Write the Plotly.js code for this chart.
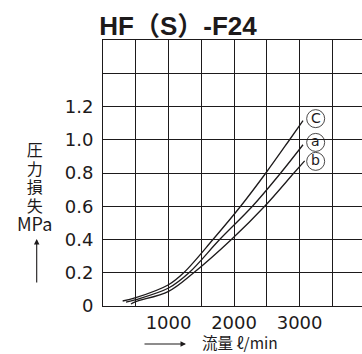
<!DOCTYPE html>
<html>
<head>
<meta charset="utf-8">
<script src="https://cdn.plot.ly/plotly-3.0.1.min.js"></script>
<style>html,body{margin:0;padding:0;background:#fff;}#chart{width:362px;height:354px;}</style>
</head>
<body>
<div id="chart"></div>
<script>
// ---- data ----
const chartTitle = "HF（S）-F24";
const flowC = [300, 500, 1000, 1231, 1678, 2100, 2485, 2847, 3052];
const lossC = [0.030, 0.050, 0.128, 0.2, 0.4, 0.6, 0.8, 1.0, 1.115];
const flowA = [351, 500, 1000, 1312, 1780, 2280, 2711, 3052];
const lossA = [0.023, 0.038, 0.108, 0.2, 0.4, 0.6, 0.8, 0.970];
const flowB = [427, 500, 1000, 1384, 1959, 2467, 2913, 3077];
const lossB = [0.012, 0.026, 0.088, 0.2, 0.4, 0.6, 0.8, 0.873];
const curveLabels = ["C", "a", "b"];
const labelFlow = [3245, 3245, 3245];
const labelLoss = [1.127, 0.984, 0.870];
const xTickVals = [0, 500, 1000, 1500, 2000, 2500, 3000, 3500, 4000];
const xTickText = ["", "", "1000", "", "2000", "", "3000", "", ""];
const yTickVals = [0, 0.2, 0.4, 0.6, 0.8, 1.0, 1.2, 1.4, 1.6];
const yTickText = ["0", "0.2", "0.4", "0.6", "0.8", "1.0", "1.2", "", ""];
const yTitleLines = ["圧", "力", "損", "失", "MPa"];
const xTitleText = "流量 ℓ/min";

const ink = "#1d1a1b";
const lineStyle = {color: ink, width: 1.3, shape: "spline", smoothing: 1};
const traces = [
  {x: flowC, y: lossC, mode: "lines", line: lineStyle, hoverinfo: "skip"},
  {x: flowA, y: lossA, mode: "lines", line: lineStyle, hoverinfo: "skip"},
  {x: flowB, y: lossB, mode: "lines", line: lineStyle, hoverinfo: "skip"}
];

const W = 362, H = 354, L = 103, T = 40, B = 306, R = 362;
const px2paperX = p => (p - L) / (R - L);
const px2paperY = p => (B - p) / (B - T);

const cjk = "'Noto Sans CJK JP', 'DejaVu Sans', sans-serif";
const latin = "'DejaVu Sans', sans-serif";
const annotations = [];
const shapes = [];
curveLabels.forEach((t, i) => {
  annotations.push({x: labelFlow[i], y: labelLoss[i], xref: "x", yref: "y", text: t,
    showarrow: false, font: {family: latin, size: 14, color: ink}, xanchor: "center", yanchor: "middle", yshift: 1});
  shapes.push({type: "circle", xref: "x", yref: "y", xsizemode: "pixel", ysizemode: "pixel",
    xanchor: labelFlow[i], yanchor: labelLoss[i], x0: -9, x1: 9, y0: -9, y1: 9,
    line: {color: ink, width: 0.8}, fillcolor: "rgba(0,0,0,0)", layer: "above"});
});
// vertical y-axis title: one text block, lines stacked
const yTitleText = yTitleLines.map((t, i) =>
  i < yTitleLines.length - 1 ? "<span style='font-size:16px'>" + t + "</span>" : "<span style='font-size:18px'>" + t + "</span>"
).join("<br>");
annotations.push({x: px2paperX(34), y: px2paperY(186), xref: "paper", yref: "paper", text: yTitleText,
  showarrow: false, font: {family: cjk, size: 14.4, color: ink}, xanchor: "center", yanchor: "middle", align: "center"});
// vertical arrow under the y title
annotations.push({x: px2paperX(36.7), y: px2paperY(239), xref: "paper", yref: "paper", text: "",
  showarrow: true, ax: 0, ay: 45, arrowhead: 2, arrowsize: 1, arrowwidth: 1.1, arrowcolor: ink});
// horizontal arrow before the x title
annotations.push({x: px2paperX(186), y: px2paperY(344), xref: "paper", yref: "paper", text: "",
  showarrow: true, ax: -43, ay: 0, arrowhead: 2, arrowsize: 1, arrowwidth: 1.1, arrowcolor: ink});
annotations.push({x: px2paperX(240), y: px2paperY(342.3), xref: "paper", yref: "paper", text: xTitleText,
  showarrow: false, font: {family: cjk, size: 15.5, color: ink}, xanchor: "center", yanchor: "middle"});

const axisCommon = {showgrid: true, gridcolor: ink, gridwidth: 1, showline: true, linecolor: ink,
  linewidth: 1, zeroline: false, ticks: "", fixedrange: true,
  tickfont: {family: latin, size: 18, color: ink}};

const layout = {
  width: W, height: H,
  margin: {l: 103, r: 0, t: 40, b: 48, pad: 0},
  paper_bgcolor: "#fff", plot_bgcolor: "#fff",
  showlegend: false,
  title: {text: chartTitle, x: 178 / W, xref: "container", xanchor: "center",
    y: 1 - 26 / H, yref: "container", yanchor: "middle",
    font: {family: "'Liberation Sans', 'Noto Sans CJK JP', sans-serif", size: 26, weight: "bold", color: ink}},
  xaxis: Object.assign({}, axisCommon, {range: [0, 3952], tickmode: "array", tickvals: xTickVals,
    ticktext: xTickText, mirror: true, ticklabelstandoff: 0}),
  yaxis: Object.assign({}, axisCommon, {range: [0, 1.6], tickmode: "array", tickvals: yTickVals,
    ticktext: yTickText, ticklabelstandoff: 5}),
  annotations: annotations,
  shapes: shapes
};

Plotly.newPlot("chart", traces, layout, {staticPlot: true, displayModeBar: false});
</script>
</body>
</html>
